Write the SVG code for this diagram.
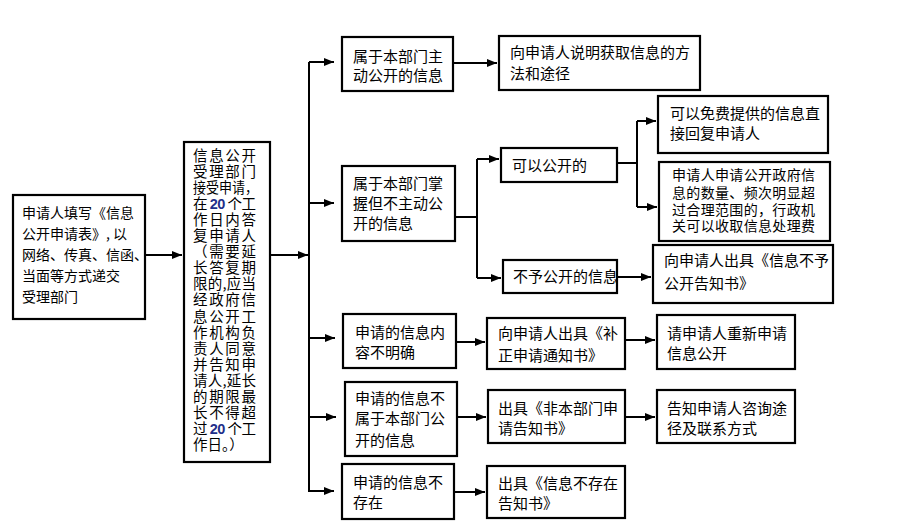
<svg xmlns="http://www.w3.org/2000/svg" width="900" height="525" viewBox="0 0 900 525">
<defs>
<marker id="ah" markerUnits="userSpaceOnUse" markerWidth="10" markerHeight="10" viewBox="0 0 10 10" refX="10" refY="5" orient="auto">
<path d="M0,1 L10,5 L0,9 Z" fill="#000"/>
</marker>
<style>
.box{fill:#fff;stroke:#000;stroke-width:2.2}
.t{font-family:"Noto Sans CJK SC","Noto Sans",sans-serif;font-size:15px;fill:#000}
.s{font-size:14px}
.v{font-size:14.5px}
.c{fill:none;stroke:#000;stroke-width:2}
.a{fill:none;stroke:#000;stroke-width:2;marker-end:url(#ah)}
.n{font-family:"Liberation Sans",sans-serif;font-weight:bold;fill:#1f2f8a}
</style>
</defs>
<rect width="900" height="525" fill="#fff"/>

<g id="connectors">
<path class="a" d="M145,255 H182"/>
<path class="a" d="M270,255 H308"/>
<path class="c" d="M309,62 V492"/>
<path class="a" d="M309,62 H334"/>
<path class="a" d="M309,203 H334"/>
<path class="a" d="M309,338 H335"/>
<path class="a" d="M309,417 H336"/>
<path class="a" d="M309,491 H334"/>
<path class="a" d="M453,63 H497"/>
<path class="c" d="M455,217 H477 M477,159 V278"/>
<path class="a" d="M477,159 H499"/>
<path class="a" d="M477,278 H501"/>
<path class="c" d="M617,163 H637 M637,121 V207"/>
<path class="a" d="M637,121 H656"/>
<path class="a" d="M637,207 H657"/>
<path class="a" d="M617,277 H651"/>
<path class="a" d="M456,342 H485"/>
<path class="a" d="M625,340 H655"/>
<path class="a" d="M457,417 H486"/>
<path class="a" d="M625,417 H655"/>
<path class="a" d="M454,492 H485"/>
</g>

<g id="n1">
<rect class="box" x="13" y="195" width="132" height="124"/>
<text class="t s" x="22" y="217.5">申请人填写《信息</text>
<text class="t s" x="22" y="238.5">公开申请表》, 以</text>
<text class="t s" x="22" y="259.5">网络、传真、信函、</text>
<text class="t s" x="22" y="280.5">当面等方式递交</text>
<text class="t s" x="22" y="301.5">受理部门</text>
</g>

<g id="n2">
<rect class="box" x="184" y="142" width="86" height="320"/>
<text class="t v" x="193" y="160.5" textLength="63" lengthAdjust="spacing">信息公开</text>
<text class="t v" x="193" y="176.6" textLength="63" lengthAdjust="spacing">受理部门</text>
<text class="t v" x="193" y="192.7" textLength="65" lengthAdjust="spacingAndGlyphs">接受申请，</text>
<text class="t v" x="193" y="208.8" textLength="63" lengthAdjust="spacing">在 <tspan class="n">20</tspan> 个工</text>
<text class="t v" x="193" y="224.9" textLength="63" lengthAdjust="spacing">作日内答</text>
<text class="t v" x="193" y="241" textLength="63" lengthAdjust="spacing">复申请人</text>
<text class="t v" x="193" y="257.1" textLength="63" lengthAdjust="spacing">（需要延</text>
<text class="t v" x="193" y="273.2" textLength="63" lengthAdjust="spacing">长答复期</text>
<text class="t v" x="193" y="289.3" textLength="63" lengthAdjust="spacing">限的,应当</text>
<text class="t v" x="193" y="305.4" textLength="63" lengthAdjust="spacing">经政府信</text>
<text class="t v" x="193" y="321.5" textLength="63" lengthAdjust="spacing">息公开工</text>
<text class="t v" x="193" y="337.6" textLength="63" lengthAdjust="spacing">作机构负</text>
<text class="t v" x="193" y="353.7" textLength="63" lengthAdjust="spacing">责人同意</text>
<text class="t v" x="193" y="369.8" textLength="63" lengthAdjust="spacing">并告知申</text>
<text class="t v" x="193" y="385.9" textLength="63" lengthAdjust="spacing">请人,延长</text>
<text class="t v" x="193" y="402" textLength="63" lengthAdjust="spacing">的期限最</text>
<text class="t v" x="193" y="418.1" textLength="63" lengthAdjust="spacing">长不得超</text>
<text class="t v" x="193" y="434.2" textLength="63" lengthAdjust="spacing">过 <tspan class="n">20</tspan> 个工</text>
<text class="t v" x="193" y="450.3">作日。）</text>
</g>

<g id="a1">
<rect class="box" x="342" y="37" width="111" height="54"/>
<text class="t" x="353" y="61.5">属于本部门主</text>
<text class="t" x="353" y="80.5">动公开的信息</text>
</g>
<g id="a2">
<rect class="box" x="499" y="36" width="201" height="54"/>
<text class="t" x="510" y="57.5">向申请人说明获取信息的方</text>
<text class="t" x="510" y="78.5">法和途径</text>
</g>

<g id="b1">
<rect class="box" x="342" y="166" width="113" height="75"/>
<text class="t" x="353" y="188.5">属于本部门掌</text>
<text class="t" x="353" y="208.5">握但不主动公</text>
<text class="t" x="353" y="228.5">开的信息</text>
</g>
<g id="b2">
<rect class="box" x="501" y="148" width="116" height="34"/>
<text class="t" x="512" y="170.5">可以公开的</text>
</g>
<g id="b3">
<rect class="box" x="503" y="260" width="114" height="33"/>
<text class="t" x="513" y="282">不予公开的信息</text>
</g>
<g id="b4">
<rect class="box" x="658" y="96" width="170" height="57"/>
<text class="t" x="670" y="118.5">可以免费提供的信息直</text>
<text class="t" x="670" y="138.5">接回复申请人</text>
</g>
<g id="b5">
<rect class="box" x="659" y="162" width="171" height="79"/>
<text class="t s" x="672" y="180" textLength="143" lengthAdjust="spacing">申请人申请公开政府信</text>
<text class="t s" x="672" y="197.5" textLength="143" lengthAdjust="spacing">息的数量、频次明显超</text>
<text class="t s" x="672" y="215" textLength="143" lengthAdjust="spacing">过合理范围的，行政机</text>
<text class="t s" x="672" y="231" textLength="143" lengthAdjust="spacing">关可以收取信息处理费</text>
</g>
<g id="b6">
<rect class="box" x="653" y="245" width="180" height="58"/>
<text class="t" x="664" y="265.5">向申请人出具《信息不予</text>
<text class="t" x="664" y="288.5">公开告知书》</text>
</g>

<g id="c1">
<rect class="box" x="343" y="314" width="113" height="54"/>
<text class="t" x="355" y="337.5">申请的信息内</text>
<text class="t" x="355" y="357.5">容不明确</text>
</g>
<g id="c2">
<rect class="box" x="487" y="318" width="138" height="51"/>
<text class="t" x="498" y="338.5">向申请人出具《补</text>
<text class="t" x="498" y="360.5">正申请通知书》</text>
</g>
<g id="c3">
<rect class="box" x="657" y="315" width="138" height="54"/>
<text class="t" x="667" y="338.5">请申请人重新申请</text>
<text class="t" x="667" y="358.5">信息公开</text>
</g>

<g id="d1">
<rect class="box" x="345" y="382" width="112" height="74"/>
<text class="t" x="355" y="403.5">申请的信息不</text>
<text class="t" x="355" y="423.5">属于本部门公</text>
<text class="t" x="355" y="445.5">开的信息</text>
</g>
<g id="d2">
<rect class="box" x="488" y="390" width="137" height="53"/>
<text class="t" x="498" y="413.5">出具《非本部门申</text>
<text class="t" x="498" y="433.5">请告知书》</text>
</g>
<g id="d3">
<rect class="box" x="657" y="390" width="138" height="53"/>
<text class="t" x="667" y="413.5">告知申请人咨询途</text>
<text class="t" x="667" y="433.5">径及联系方式</text>
</g>

<g id="e1">
<rect class="box" x="342" y="464" width="112" height="55"/>
<text class="t" x="353" y="487.5">申请的信息不</text>
<text class="t" x="353" y="507.5">存在</text>
</g>
<g id="e2">
<rect class="box" x="487" y="466" width="138" height="52"/>
<text class="t" x="498" y="488.5">出具《信息不存在</text>
<text class="t" x="498" y="508.5">告知书》</text>
</g>
</svg>
